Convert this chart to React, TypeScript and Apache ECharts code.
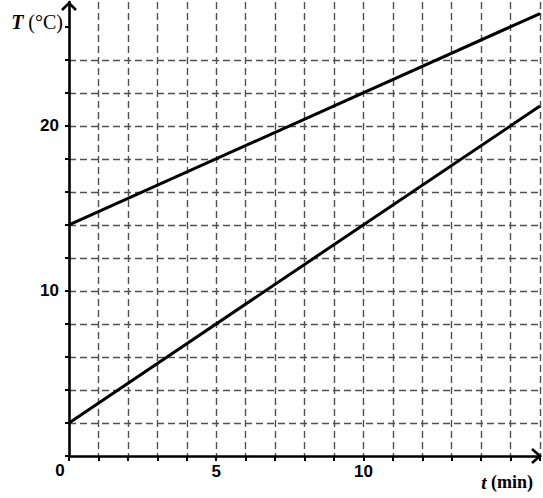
import React, { useEffect, useRef } from "react";
import * as echarts from "echarts";

const timeMin = [0, 16];
const upperTemp = [14, 26.8];
const lowerTemp = [2, 21.2];
const xLabelValues = [5, 10];
const yLabelValues = [10, 20];
const yTickValues = [0, 2, 4, 6, 8, 10, 12, 14, 16, 18, 20, 22, 24, 26];

const serif = "'Liberation Serif', 'Times New Roman', serif";

export default function App() {
  const ref = useRef<HTMLDivElement>(null);
  useEffect(() => {
    if (!ref.current) return;
    const chart = echarts.init(ref.current, null, { renderer: "svg" });
    const dash = { color: "#505050", width: 1.4, type: [7, 4] as any };
    chart.setOption({
      animation: false,
      backgroundColor: "#ffffff",
      grid: { left: 69, right: 2, top: 2, bottom: 42 },
      xAxis: {
        type: "value",
        min: 0,
        max: 16,
        interval: 1,
        axisLine: { show: true, onZero: false, lineStyle: { color: "#000", width: 2.6 } },
        axisTick: { show: true, inside: false, length: 5, lineStyle: { color: "#000", width: 2 } },
        axisLabel: {
          margin: 7,
          color: "#000",
          fontFamily: "Liberation Sans, Arial, sans-serif",
          fontWeight: "bold",
          fontSize: 17,
          formatter: (v: number) => (xLabelValues.includes(v) ? String(v) : ""),
        },
        splitLine: { show: true, showMinLine: false, lineStyle: dash },
      },
      yAxis: {
        type: "value",
        min: 0,
        max: 27.5,
        interval: 2,
        axisLine: { show: true, onZero: false, lineStyle: { color: "#000", width: 2.6 } },
        axisTick: {
          show: true,
          length: 4,
          customValues: yTickValues,
          lineStyle: { color: "#000", width: 2 },
        },
        axisLabel: {
          margin: 10,
          color: "#000",
          fontFamily: "Liberation Sans, Arial, sans-serif",
          fontWeight: "bold",
          fontSize: 17,
          customValues: yLabelValues,
          formatter: (v: number) => (yLabelValues.includes(v) ? String(v) : ""),
        },
        splitLine: { show: true, showMinLine: false, showMaxLine: false, lineStyle: dash },
      },
      series: [
        {
          type: "line",
          data: timeMin.map((t, i) => [t, upperTemp[i]]),
          symbol: "none",
          lineStyle: { color: "#000", width: 3 },
        },
        {
          type: "line",
          data: timeMin.map((t, i) => [t, lowerTemp[i]]),
          symbol: "none",
          lineStyle: { color: "#000", width: 3 },
        },
      ],
    });
    const origin = chart.convertToPixel({ gridIndex: 0 }, [0, 0]) as number[];
    const xEnd = chart.convertToPixel({ gridIndex: 0 }, [16, 0]) as number[];
    const yEnd = chart.convertToPixel({ gridIndex: 0 }, [0, 27.5]) as number[];
    chart.setOption({
      graphic: [
        {
          type: "polyline",
          shape: { points: [[xEnd[0] - 8, xEnd[1] - 7], [xEnd[0], xEnd[1]], [xEnd[0] - 8, xEnd[1] + 7]] },
          style: { stroke: "#000", lineWidth: 2.6, fill: "none" },
          z: 10,
        },
        {
          type: "polyline",
          shape: { points: [[yEnd[0] - 7, yEnd[1] + 8], [yEnd[0], yEnd[1] + 1], [yEnd[0] + 7, yEnd[1] + 8]] },
          style: { stroke: "#000", lineWidth: 2.6, fill: "none" },
          z: 10,
        },
        {
          type: "text",
          x: origin[0] - 9,
          y: origin[1] + 14,
          style: {
            text: "0",
            fill: "#000",
            fontFamily: "Liberation Sans, Arial, sans-serif",
            fontWeight: "bold",
            fontSize: 17,
            align: "center",
            verticalAlign: "middle",
          },
        },
        {
          type: "text",
          x: origin[0] - 6,
          y: 22,
          style: {
            text: "{i|T} {n|(°C)}",
            align: "right",
            verticalAlign: "middle",
            fontFamily: serif,
            fontSize: 20,
            fill: "#000",
            rich: {
              i: { fontFamily: serif, fontStyle: "italic", fontWeight: "bold", fontSize: 20, fill: "#000" },
              n: { fontFamily: serif, fontWeight: "normal", fontSize: 20, fill: "#000" },
            },
          },
        },
        {
          type: "text",
          x: 507,
          y: 482,
          style: {
            text: "{i|t} {n|(min)}",
            align: "center",
            verticalAlign: "middle",
            fontFamily: serif,
            fontSize: 18,
            fill: "#000",
            rich: {
              i: { fontFamily: serif, fontStyle: "italic", fontWeight: "bold", fontSize: 19, fill: "#000" },
              n: { fontFamily: serif, fontWeight: "bold", fontSize: 18, fill: "#000" },
            },
          },
        },
      ],
    });
    return () => chart.dispose();
  }, []);
  return (
    <div
      ref={ref}
      style={{ position: "fixed", left: 0, top: 0, width: 543, height: 498, background: "#fff" }}
    />
  );
}
